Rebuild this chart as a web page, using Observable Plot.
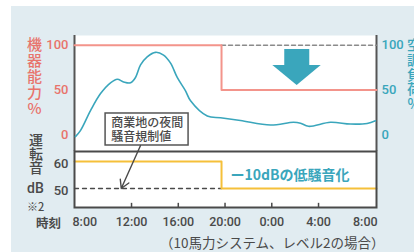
<!DOCTYPE html>
<html><head><meta charset="utf-8">
<script src="https://cdn.jsdelivr.net/npm/d3@7"></script>
<script src="https://cdn.jsdelivr.net/npm/@observablehq/plot@0.6"></script>
<style>
body{margin:0;background:#fff;}
#wrap{position:relative;width:414px;height:252px;overflow:hidden;font-family:"Noto Sans CJK JP",sans-serif;}
#bg{position:absolute;left:11px;top:6px;width:403px;height:246px;background:#e1ecf1;}
#wrap svg{position:absolute;left:0;top:0;}
.t{position:absolute;font-weight:500;white-space:nowrap;}
.v{writing-mode:vertical-rl;text-orientation:upright;}
</style></head>
<body><div id="wrap"><div id="bg"></div></div>
<script>
// time axis (hours, 24 = 0:00 next day)
const hours = [7.2, 7.64, 8.49, 9.35, 10.2, 10.78, 11.32, 11.91, 12.34, 12.77, 13.34, 14.05, 14.74, 15.34, 15.91, 16.62, 17.05, 18.48, 19.61, 21.32, 23.89, 25.86, 26.46, 27.14, 29.02, 30.73, 32.16, 32.87];
const load = [-2, 5, 27, 46, 58, 62, 59, 58, 64, 78, 87, 92, 89, 80, 64, 49, 38, 21, 19, 16, 11, 14, 13, 9.5, 14, 12, 12.7, 15.7];
const stepX = [7.12, 19.7, 19.7, 32.96];
const capacity = [100, 100, 50, 50];
const noise = [60, 60, 50, 50];
const limitX = [7.12, 19.7];
const limitDb = [50, 50];
const dashedCapX = [19.7, 32.96];
const dashedCap = [100, 100];
const tickHours = [8, 12, 16, 20, 24, 28, 32];
const tickLabels = ["8:00", "12:00", "16:00", "20:00", "0:00", "4:00", "8:00"];
const innerTicks = [12, 16, 20, 24, 28];
const upperTicks = [0, 50, 100];
const lowerTicks = [50, 60];
const noteLines = ["商業地の夜間", "騒音規制値"];
const reductionLabel = "ー10dBの低騒音化";

const xDomain = [7.12, 32.96];
const RED = "#e8746c", REDLINE = "#f3948b", TEAL = "#3aa6bc", DARK = "#4a4a4a", YEL = "#f5c03a";
const font = {background: "transparent", overflow: "visible", fontFamily: "Roboto, 'Noto Sans CJK JP', sans-serif", fontWeight: 500};

const loadData = hours.map((h, i) => ({h, v: load[i]}));
const capData = stepX.map((h, i) => ({h, v: capacity[i]}));
const noiseData = stepX.map((h, i) => ({h, v: noise[i]}));
const limitData = limitX.map((h, i) => ({h, v: limitDb[i]}));
const dCapData = dashedCapX.map((h, i) => ({h, v: dashedCap[i]}));

const upper = Plot.plot({
  width: 414, height: 252, marginLeft: 74, marginRight: 38, marginTop: 35, marginBottom: 101,
  x: {domain: xDomain, axis: null}, y: {domain: [-18.6, 110.8], axis: null},
  style: font,
  marks: [
    Plot.frame({fill: "white", stroke: "none"}),
    Plot.ruleX(xDomain, {stroke: "#555", strokeWidth: 2}),
    Plot.line(dCapData, {x: "h", y: "v", stroke: "#8a8a8a", strokeWidth: 1.5, strokeDasharray: "4,3"}),
    Plot.line(capData, {x: "h", y: "v", stroke: REDLINE, strokeWidth: 2}),
    Plot.line(loadData, {x: "h", y: "v", curve: "catmull-rom", stroke: TEAL, strokeWidth: 1.6}),
    Plot.rect([{x1: 25.11, x2: 27.25, y1: 77.3, y2: 95.2}], {x1: "x1", x2: "x2", y1: "y1", y2: "y2", fill: TEAL}),
    Plot.areaY([{x: 24.09, y1: 77.3, y2: 77.3}, {x: 26.17, y1: 77.3, y2: 55}, {x: 28.23, y1: 77.3, y2: 77.3}], {x: "x", y1: "y1", y2: "y2", fill: TEAL}),
    Plot.rect([{x1: 9.78, x2: 16.88, y1: -11.9, y2: 23.8}], {x1: "x1", x2: "x2", y1: "y1", y2: "y2", fill: "white", stroke: "#555", strokeWidth: 1.5}),
    Plot.text(noteLines, {x: 10.26, y: (d, i) => [12.9, -2.9][i], text: d => d, textAnchor: "start", fontSize: 12, fill: DARK, fontFamily: "'Noto Sans CJK JP'"}),
    Plot.axisY(upperTicks, {anchor: "left", tickSize: 0, tickPadding: 6, fill: RED, fontSize: 13, label: null}),
    Plot.axisY(upperTicks, {anchor: "right", tickSize: 0, tickPadding: 5, fill: TEAL, fontSize: 13, label: null})
  ]
});

const lower = Plot.plot({
  width: 414, height: 252, marginLeft: 74, marginRight: 38, marginTop: 151, marginBottom: 45,
  x: {domain: xDomain, axis: null}, y: {domain: [42.96, 63.7], axis: null},
  style: font,
  marks: [
    Plot.frame({fill: "white", stroke: "none"}),
    Plot.line(limitData, {x: "h", y: "v", stroke: DARK, strokeWidth: 1.3, strokeDasharray: "4,4"}),
    Plot.line(noiseData, {x: "h", y: "v", stroke: YEL, strokeWidth: 2}),
    Plot.frame({stroke: "#4a4a4a", strokeWidth: 2}),
    Plot.ruleX(innerTicks, {y1: 42.96, y2: 44.5, stroke: DARK, strokeWidth: 1.5}),
    Plot.text([reductionLabel], {x: 20.47, y: 54.8, text: d => d, textAnchor: "start", fontSize: 14, fill: TEAL, fontFamily: "'Noto Sans CJK JP'", fontWeight: 700}),
    Plot.arrow([{x1: 12.77, y1: 65.9, x2: 11.12, y2: 50}], {x1: "x1", y1: "y1", x2: "x2", y2: "y2", stroke: DARK, strokeWidth: 1.4, headLength: 10}),
    Plot.axisY(lowerTicks, {anchor: "left", tickSize: 0, tickPadding: 6, fill: DARK, fontSize: 13, label: null, dy: 2}),
    Plot.axisX(tickHours, {anchor: "bottom", tickSize: 0, tickPadding: 10, tickFormat: (d, i) => tickLabels[i], fill: DARK, fontSize: 12.5, label: null})
  ]
});

const wrap = document.getElementById("wrap");
wrap.appendChild(upper);
wrap.appendChild(lower);

function addText(txt, css, cls) {
  const d = document.createElement("div");
  d.className = "t " + (cls || "");
  d.textContent = txt;
  Object.assign(d.style, css);
  wrap.appendChild(d);
}
addText("機器能力%", {left: "27px", top: "37px", fontSize: "15px", color: RED, letterSpacing: "1px", lineHeight: "15px"}, "v");
addText("空調負荷%", {left: "406px", top: "38px", fontSize: "14px", color: TEAL, letterSpacing: "0.6px", lineHeight: "15px"}, "v");
addText("運転音", {left: "28px", top: "133px", fontSize: "14px", color: DARK, lineHeight: "15px"}, "v");
addText("dB", {left: "27px", top: "180px", fontSize: "14px", color: DARK, fontFamily: "Roboto", lineHeight: "16px"});
addText("※2", {left: "27px", top: "200px", fontSize: "11px", color: DARK, lineHeight: "12px"});
addText("時刻", {left: "36px", top: "214px", fontSize: "12.5px", color: DARK, fontWeight: 700, lineHeight: "18px"});
addText("（10馬力システム、レベル2の場合）", {left: "160px", top: "233px", fontSize: "13.5px", color: DARK, fontWeight: 400, lineHeight: "18px"});
</script></body></html>
